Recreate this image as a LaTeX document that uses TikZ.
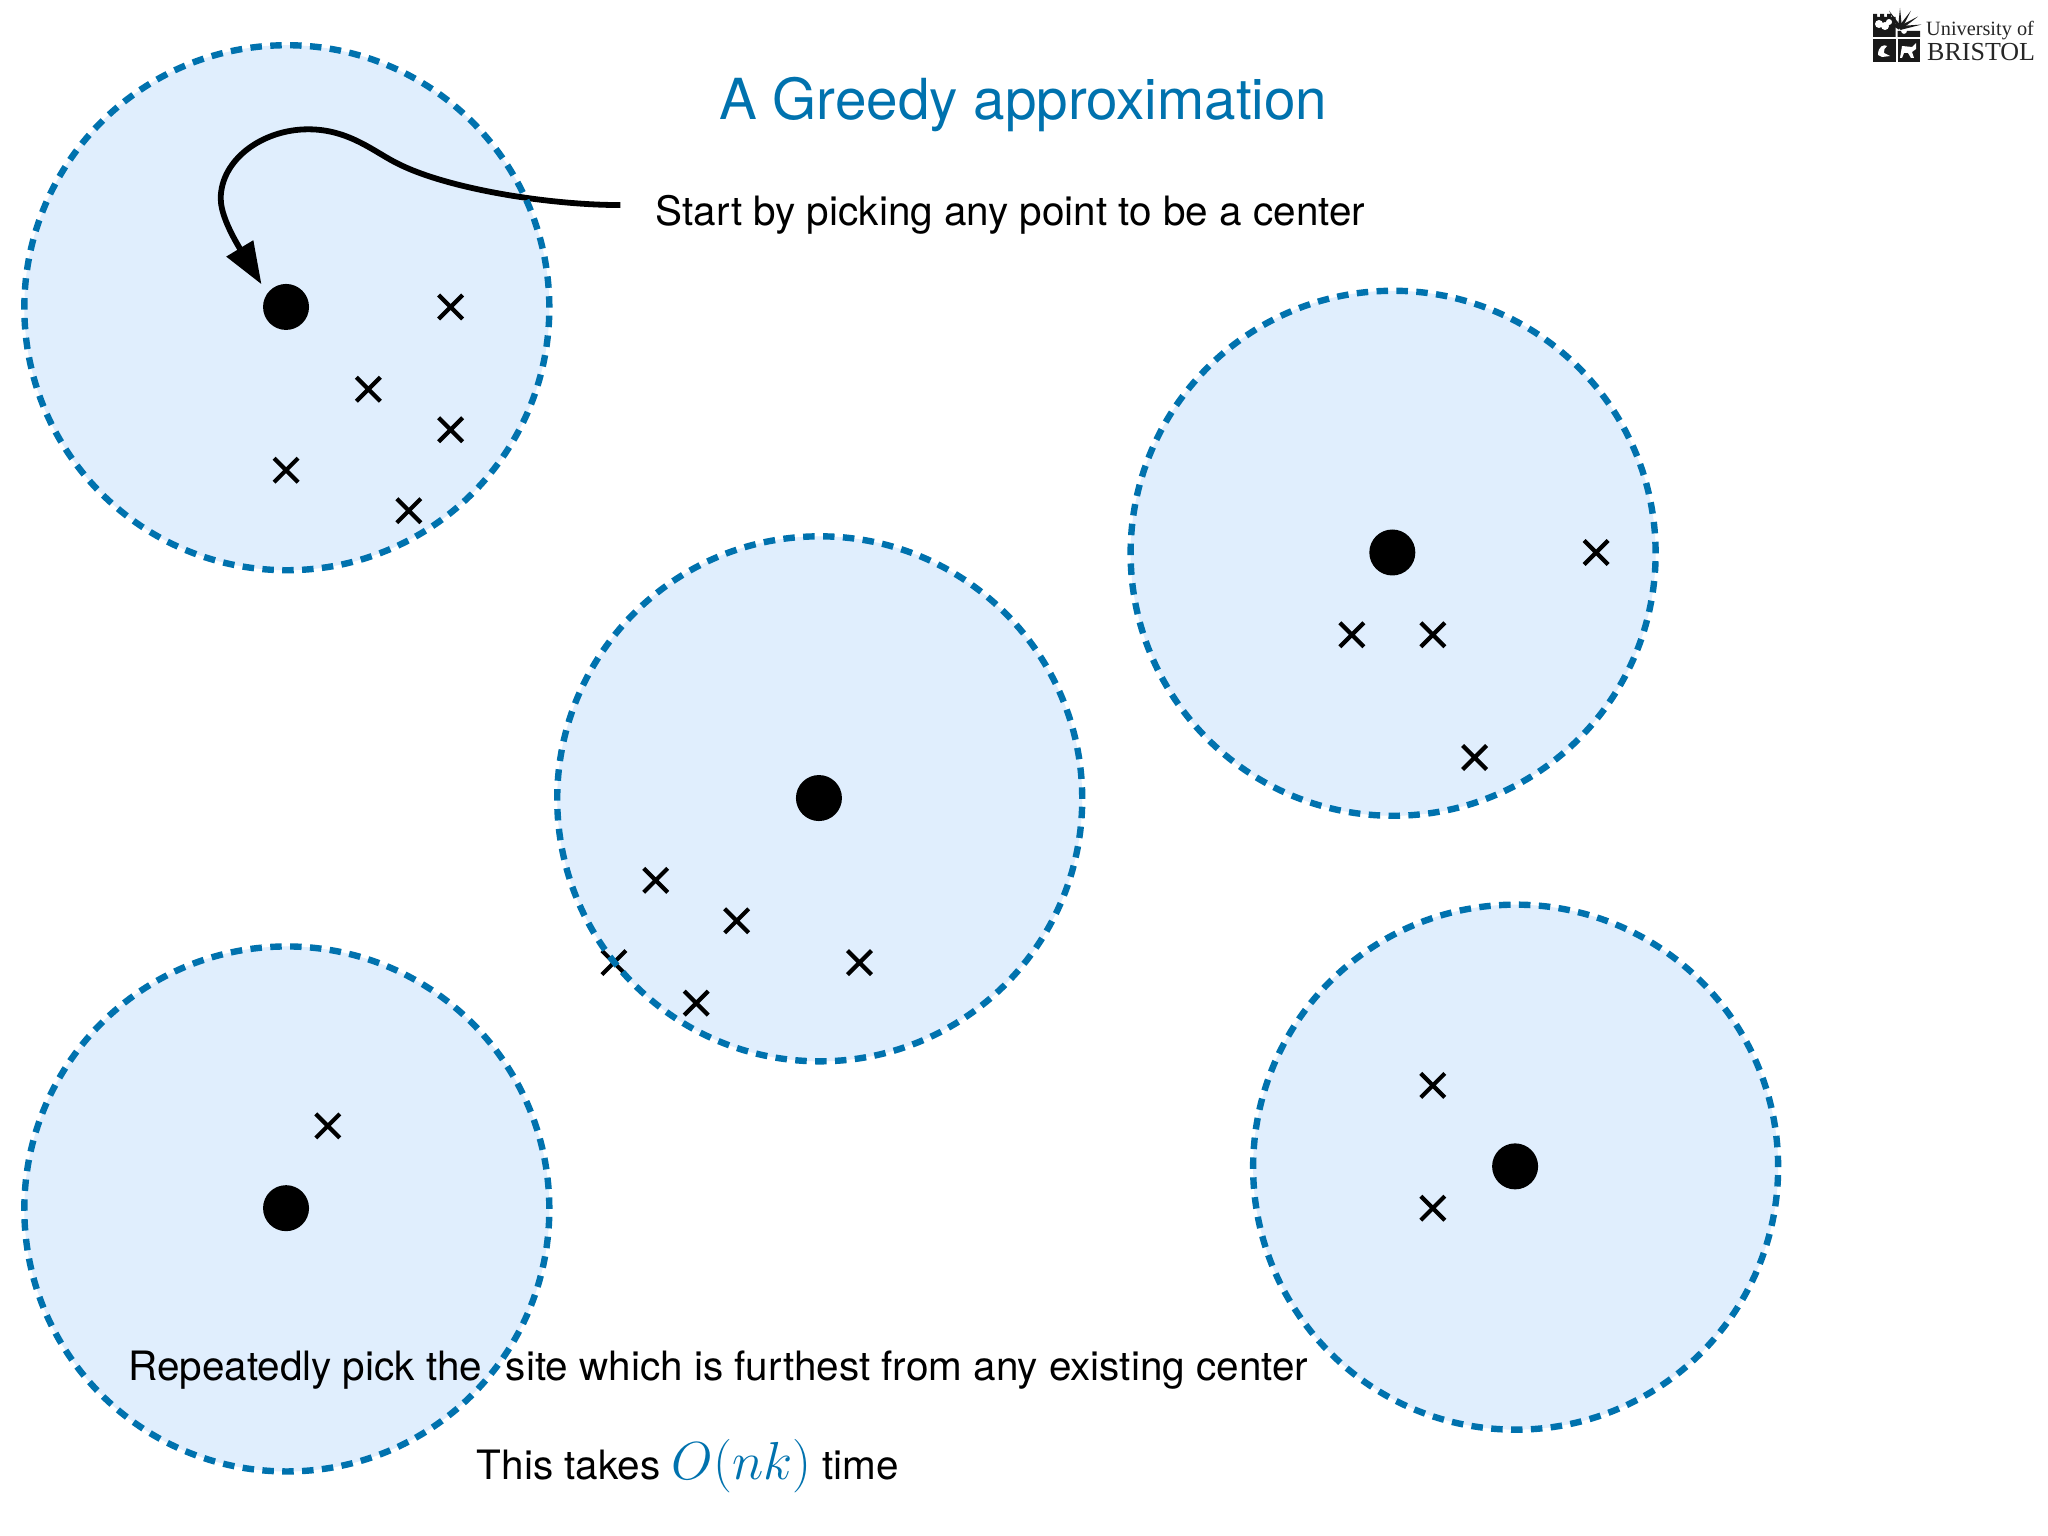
\documentclass[tikz,border=0pt]{standalone}
\usepackage{fontspec}
\setmainfont{TeX Gyre Heros}
\newfontfamily\logofont{Liberation Serif}
\usetikzlibrary{arrows.meta,shapes.misc}
\definecolor{brisblue}{HTML}{0072AE}
\definecolor{discfill}{HTML}{E0EEFD}
\tikzset{
  disc/.style={circle,minimum size=525pt,inner sep=0pt,outer sep=0pt,fill=discfill},
  rim/.style={draw=brisblue,line width=6.4pt,dash pattern=on 11.5pt off 8.38pt},
  centerdot/.style={circle,fill=black,minimum size=46pt,inner sep=0pt,outer sep=0pt},
  xmark/.style={cross out,draw=black,line width=4.2pt,minimum size=24pt,inner sep=0pt,outer sep=0pt},
  bodytext/.style={anchor=base west,inner sep=0pt,text=black,font=\fontsize{40.45}{48}\selectfont},
  titletext/.style={anchor=base,inner sep=0pt,text=brisblue,font=\fontsize{56.6}{68}\selectfont},
  logotext/.style={anchor=base west,inner sep=0pt,text=black!85},
}
\begin{document}
\begin{tikzpicture}[x=1.30612pt,y=-1.30612pt]
\useasboundingbox (0,0) rectangle (1568,1176);
\fill[white] (0,0) rectangle (1568,1176);
% discs
\node[disc] (c1) at (219.6,235.6) {};
\node[disc] (c2) at (627.6,611.6) {};
\node[disc] (c3) at (1066.6,423.6) {};
\node[disc] (c4) at (219.6,925.6) {};
\node[disc] (c5) at (1160.4,893.6) {};
% centers
\node[centerdot] (d1) at (219,235) {};
\node[centerdot] (d2) at (627,611) {};
\node[centerdot] (d3) at (1066,423) {};
\node[centerdot] (d4) at (219,925) {};
\node[centerdot] (d5) at (1160,893) {};
% sites
\node[xmark] (a1) at (345,235) {};
\node[xmark] (a2) at (282,298) {};
\node[xmark] (a3) at (345,329) {};
\node[xmark] (a4) at (219,360) {};
\node[xmark] (a5) at (313,391) {};
\node[xmark] (b1) at (502,674) {};
\node[xmark] (b2) at (564,705) {};
\node[xmark] (b3) at (470,737) {};
\node[xmark] (b4) at (533,768) {};
\node[xmark] (b5) at (658,737) {};
\node[xmark] (e1) at (1222,423) {};
\node[xmark] (e2) at (1035,486) {};
\node[xmark] (e3) at (1097,486) {};
\node[xmark] (e4) at (1129,580) {};
\node[xmark] (f1) at (251,862) {};
\node[xmark] (g1) at (1097,831) {};
\node[xmark] (g2) at (1097,925) {};
% arrow
\coordinate (arrowstart) at (475,157);
\draw[line width=5.8pt,-{Triangle[length=42pt,width=30pt]},shorten >=11pt]
  (arrowstart) .. controls (421,157) and (345,145) .. (306,126)
  .. controls (287,117) and (268,99) .. (236,99)
  .. controls (200.6,99) and (169,122.5) .. (169,152)
  .. controls (169,162) and (175,176) .. (d1.145);
% dashed rims
\foreach \c in {c1,c2,c3,c4,c5}
  \draw[rim] (\c) circle[radius=262.5pt];
% texts
\node[titletext] (title) at (783.5,91.8) {A Greedy approximation};
\node[bodytext] (start) at (502,172.3) {Start by picking any point to be a center};
\node[bodytext] (repeat) at (98,1057) {Repeatedly pick the\hspace{12.5pt} site which is furthest from any existing center};
\node[bodytext] (takes) at (365,1133) {This takes {\color{brisblue}\fontsize{20.74}{24}\selectfont\scalebox{2.58}{$O(nk)$}} time};
% logo
\begin{scope}[x=1pt,y=-1pt]
\fill[black!90] (1873,14) -- (1877,14) -- (1877,17) -- (1880,17) -- (1880,14) -- (1884,14) -- (1884,17) -- (1887,17) -- (1887,14) -- (1891,14) -- (1891,17) -- (1895.5,17) -- (1895.5,37) -- (1873,37) -- cycle;
\fill[black!90] (1873,39.5) rectangle (1895.5,62);
\fill[black!90] (1897.5,39.5) rectangle (1920,62);
\fill[black!90] (1897.5,37) -- (1897.5,31) -- (1901,31) arc[start angle=180,end angle=360,radius=3pt] -- (1920,31) -- (1920,37) -- cycle;
\foreach \a in {10,35,60,90,120,150}
  \fill[black!90] ({1900-2*sin(\a)},{28-2*cos(\a)}) -- ({1900+22*cos(\a)},{28-20*sin(\a)}) -- ({1900+2*sin(\a)},{28+2*cos(\a)}) -- cycle;
\fill[white] (1879,24) circle[radius=4pt] (1885,26) circle[radius=4pt] (1889,22) circle[radius=3pt];
\fill[white] (1878,55) .. controls (1878,46) and (1884,44) .. (1887,46) .. controls (1885,48) and (1883,50) .. (1884,53) -- (1890,56) -- (1882,57) -- cycle;
\fill[white] (1902,46) -- (1912,47) -- (1916,43) -- (1916,49) -- (1912,52) -- (1914,58) -- (1911,58) -- (1908,53) -- (1904,53) -- (1902,58) -- (1900,58) -- cycle;
\node[logotext,font=\logofont\fontsize{20.3}{22}\selectfont] (uni) at (1926,36) {University of};
\node[logotext,font=\logofont\fontsize{26}{28}\selectfont] (bris) at (1927,61) {BRISTOL};
\end{scope}
\end{tikzpicture}
\end{document}
